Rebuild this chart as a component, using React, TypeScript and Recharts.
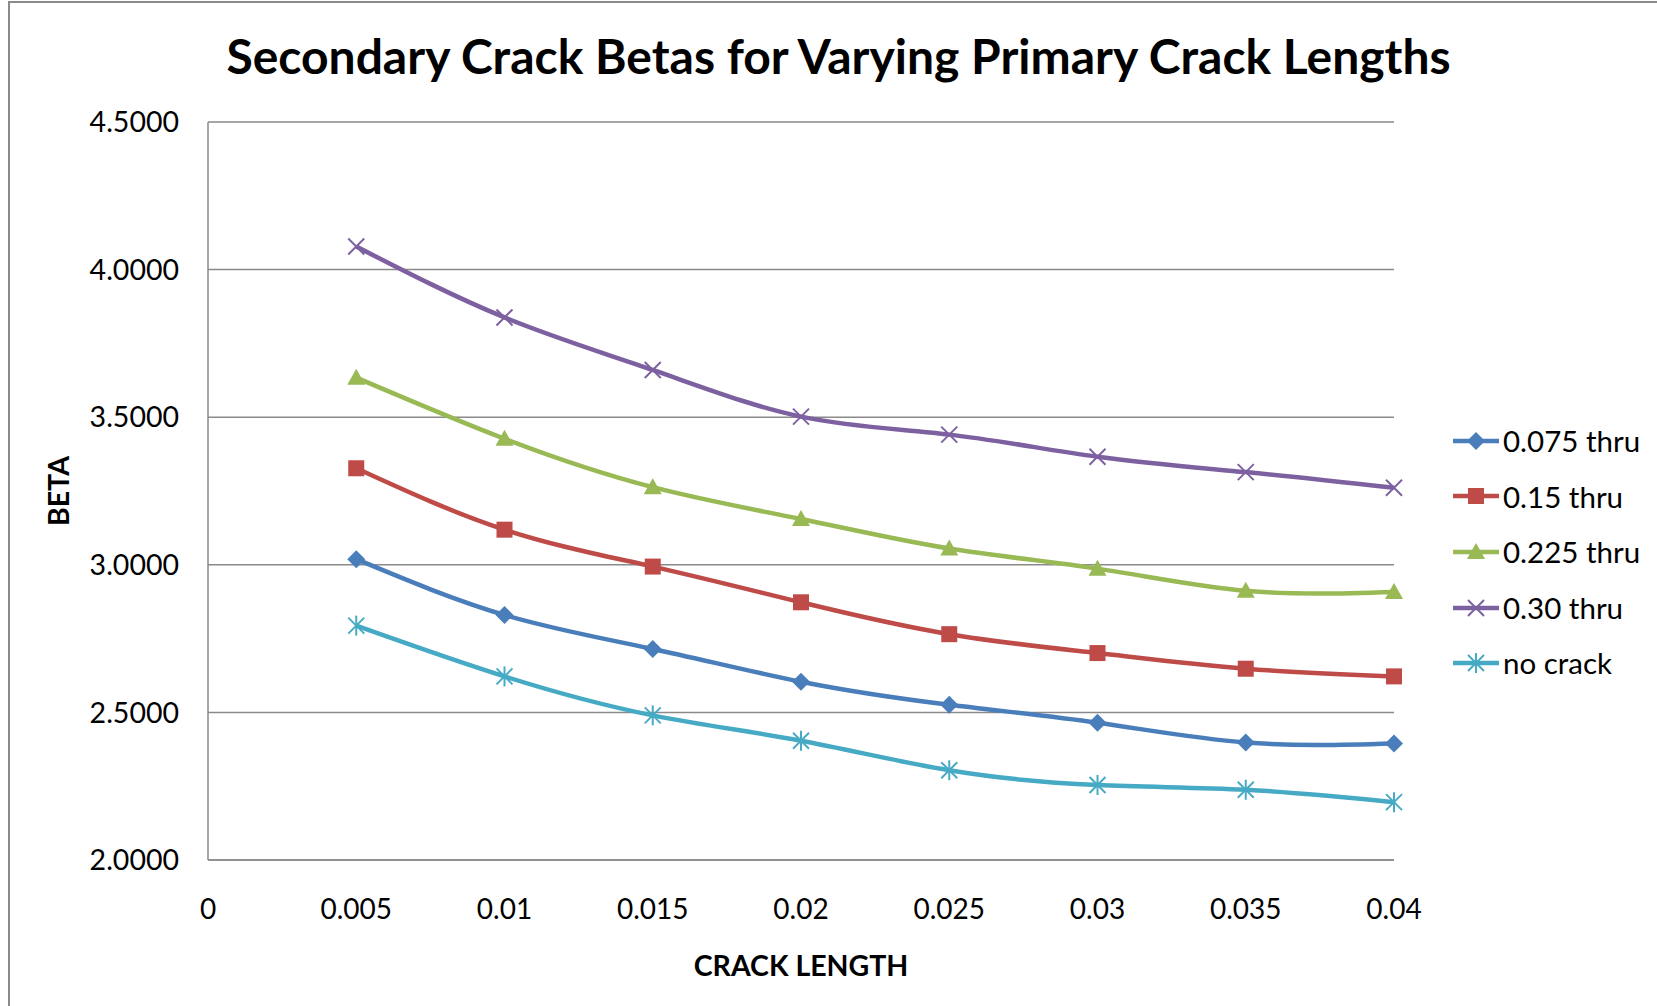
import { LineChart, Line, XAxis, YAxis, CartesianGrid } from "recharts";

const xValues = [0.005, 0.01, 0.015, 0.02, 0.025, 0.03, 0.035, 0.04];
const beta075 = [3.019, 2.83, 2.715, 2.604, 2.526, 2.465, 2.398, 2.395];
const beta15 = [3.327, 3.119, 2.994, 2.873, 2.765, 2.701, 2.648, 2.622];
const beta225 = [3.634, 3.427, 3.263, 3.155, 3.055, 2.987, 2.912, 2.908];
const beta30 = [4.078, 3.838, 3.66, 3.502, 3.441, 3.366, 3.314, 3.261];
const noCrack = [2.794, 2.622, 2.49, 2.404, 2.304, 2.254, 2.238, 2.196];

const xTicks = [0, 0.005, 0.01, 0.015, 0.02, 0.025, 0.03, 0.035, 0.04];
const xTickLabels = ["0", "0.005", "0.01", "0.015", "0.02", "0.025", "0.03", "0.035", "0.04"];
const yTicks = [2, 2.5, 3, 3.5, 4, 4.5];

const series = [
  { key: "b075", name: "0.075 thru", values: beta075, color: "#4A7EBB", shape: "diamond" },
  { key: "b15", name: "0.15 thru", values: beta15, color: "#BE4B48", shape: "square" },
  { key: "b225", name: "0.225 thru", values: beta225, color: "#98B954", shape: "triangle" },
  { key: "b30", name: "0.30 thru", values: beta30, color: "#7D60A0", shape: "x" },
  { key: "none", name: "no crack", values: noCrack, color: "#46AAC5", shape: "star" },
];

const data = xValues.map((x, i) => {
  const row: Record<string, number> = { x };
  series.forEach((s) => (row[s.key] = s.values[i]));
  return row;
});

const FONT = "Lato, 'Open Sans', sans-serif";
const GRID = "#8a8a8a";

function Marker({ shape, cx, cy, color }: { shape: string; cx: number; cy: number; color: string }) {
  if (cx == null || cy == null) return null;
  switch (shape) {
    case "diamond":
      return <path d={`M${cx},${cy - 9}L${cx + 9},${cy}L${cx},${cy + 9}L${cx - 9},${cy}Z`} fill={color} />;
    case "square":
      return <rect x={cx - 8} y={cy - 8} width={16} height={16} fill={color} />;
    case "triangle":
      return <path d={`M${cx},${cy - 9}L${cx + 9},${cy + 7}L${cx - 9},${cy + 7}Z`} fill={color} />;
    case "x":
      return (
        <g stroke={color} strokeWidth={2}>
          <line x1={cx - 8} y1={cy - 8} x2={cx + 8} y2={cy + 8} />
          <line x1={cx - 8} y1={cy + 8} x2={cx + 8} y2={cy - 8} />
        </g>
      );
    default:
      return (
        <g stroke={color} strokeWidth={2}>
          <line x1={cx - 8} y1={cy - 8} x2={cx + 8} y2={cy + 8} />
          <line x1={cx - 8} y1={cy + 8} x2={cx + 8} y2={cy - 8} />
          <line x1={cx} y1={cy - 10} x2={cx} y2={cy + 10} />
        </g>
      );
  }
}

export default function App() {
  return (
    <div style={{ position: "absolute", left: 0, top: 0, width: 1657, height: 1006, overflow: "hidden", background: "#fff", fontFamily: FONT }}>
      <div style={{ position: "absolute", left: 8, top: 1, width: 1700, height: 1100, border: `2px solid ${GRID}` }} />
      <div
        style={{
          position: "absolute",
          left: 10,
          top: 32,
          width: 1657,
          textAlign: "center",
          fontSize: 48,
          lineHeight: 1,
          fontWeight: 700,
          color: "#000",
        }}
      >
        Secondary Crack Betas for Varying Primary Crack Lengths
      </div>
      <LineChart
        width={1657}
        height={1006}
        data={data}
        margin={{ top: 122, right: 263, bottom: 46, left: 8 }}
        style={{ position: "absolute", left: 0, top: 0 }}
      >
        <CartesianGrid vertical={false} stroke={GRID} strokeWidth={1.5} />
        <XAxis
          dataKey="x"
          type="number"
          domain={[0, 0.04]}
          ticks={xTicks}
          interval={0}
          height={100}
          tickFormatter={(v: number) => xTickLabels[xTicks.indexOf(v)] ?? String(v)}
          tick={{ fill: "#000", fontSize: 28, fontFamily: FONT }}
          tickLine={false}
          tickSize={0}
          tickMargin={39}
          axisLine={{ stroke: GRID, strokeWidth: 1.5 }}
          label={{
            content: ({ viewBox }: any) => (
              <text x={viewBox.x + viewBox.width / 2} y={976} textAnchor="middle" fontSize={28.5} fontWeight={700} fontFamily={FONT} fill="#000">
                CRACK LENGTH
              </text>
            ),
          }}
        />
        <YAxis
          type="number"
          domain={[2, 4.5]}
          ticks={yTicks}
          interval={0}
          width={200}
          tickFormatter={(v: number) => v.toFixed(4)}
          tick={{ fill: "#000", fontSize: 28.5, fontFamily: FONT }}
          tickLine={false}
          tickSize={0}
          tickMargin={29}
          axisLine={{ stroke: GRID, strokeWidth: 1.5 }}
          label={{
            content: ({ viewBox }: any) => {
              const cy = viewBox.y + viewBox.height / 2;
              return (
                <text x={58} y={cy} transform={`rotate(-90 58 ${cy})`} textAnchor="middle" dominantBaseline="central" fontSize={28.5} fontWeight={700} fontFamily={FONT} fill="#000">
                  BETA
                </text>
              );
            },
          }}
        />
        {series.map((s) => (
          <Line
            key={s.key}
            dataKey={s.key}
            name={s.name}
            type="natural"
            stroke={s.color}
            strokeWidth={4.5}
            isAnimationActive={false}
            dot={(p: any) => <Marker key={`${s.key}-${p.index}`} shape={s.shape} cx={p.cx} cy={p.cy} color={s.color} />}
            activeDot={false}
          />
        ))}
      </LineChart>
      <div style={{ position: "absolute", left: 1452, top: 413 }}>
        {series.map((s) => (
          <div key={s.key} style={{ display: "flex", alignItems: "center", height: 55.6 }}>
            <svg width={48} height={24} style={{ marginRight: 3 }}>
              <line x1={1} y1={12} x2={47} y2={12} stroke={s.color} strokeWidth={4.5} />
              <Marker shape={s.shape} cx={24} cy={12} color={s.color} />
            </svg>
            <span style={{ fontSize: 29.5, color: "#000", lineHeight: 1 }}>{s.name}</span>
          </div>
        ))}
      </div>
    </div>
  );
}
